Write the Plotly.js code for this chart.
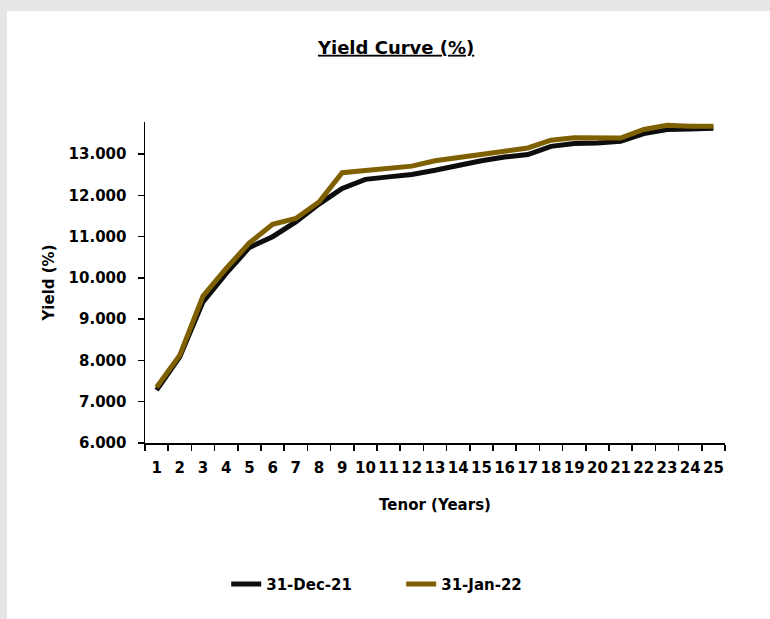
<!DOCTYPE html>
<html>
<head>
<meta charset="utf-8">
<script src="https://cdn.plot.ly/plotly-3.0.1.min.js"></script>
<style>
  html, body { margin: 0; padding: 0; background: #e6e6e6; width: 770px; height: 619px; overflow: hidden; }
  #chart { position: absolute; left: 7px; top: 11px; width: 763px; height: 608px; background: #ffffff; }
</style>
</head>
<body>
<div id="chart"></div>
<script>
const tenors = ["1","2","3","4","5","6","7","8","9","10","11","12","13","14","15","16","17","18","19","20","21","22","23","24","25"];
const dec21 = [7.28, 8.09, 9.42, 10.11, 10.74, 11.00, 11.36, 11.79, 12.17, 12.39, 12.45, 12.51, 12.61, 12.73, 12.84, 12.93, 12.99, 13.19, 13.26, 13.27, 13.31, 13.50, 13.60, 13.61, 13.63];
const jan22 = [7.35, 8.13, 9.56, 10.23, 10.85, 11.30, 11.44, 11.84, 12.55, 12.60, 12.64, 12.71, 12.84, 12.91, 12.99, 13.07, 13.15, 13.34, 13.40, 13.40, 13.39, 13.60, 13.70, 13.68, 13.68];
const yTicks = [6, 7, 8, 9, 10, 11, 12, 13];
const seriesNames = ["31-Dec-21", "31-Jan-22"];

const FONT = "DejaVu Sans, sans-serif";

const traces = [
  { x: tenors, y: dec21, name: seriesNames[0], type: "scatter", mode: "lines",
    line: { color: "#0d0d0d", width: 5, shape: "linear" } },
  { x: tenors, y: jan22, name: seriesNames[1], type: "scatter", mode: "lines",
    line: { color: "#7f6000", width: 5, shape: "linear" } }
];

const layout = {
  width: 763, height: 608,
  paper_bgcolor: "#ffffff", plot_bgcolor: "#ffffff",
  margin: { l: 138, r: 45, t: 111, b: 176 },
  font: { family: FONT, color: "#000000", size: 15 },
  title: {
    text: "Yield Curve (%)",
    x: 0.51, xanchor: "center", y: 0.94, yanchor: "middle", yref: "container",
    font: { family: FONT, size: 18, weight: "bold", color: "#000000", lineposition: "under" }
  },
  xaxis: {
    type: "category",
    range: [-0.5, 24.5],
    showline: true, linecolor: "#000000", linewidth: 1.5,
    ticks: "outside", tickson: "boundaries", ticklen: 6, tickwidth: 1.5, tickcolor: "#000000",
    tickangle: 0, ticklabelstandoff: 10,
    showgrid: false, zeroline: false,
    tickfont: { family: FONT, size: 15, weight: "bold", color: "#000000" },
    title: { text: "Tenor (Years)", standoff: 24,
      font: { family: FONT, size: 15, weight: "bold", color: "#000000" } }
  },
  yaxis: {
    range: [6, 13.78],
    tickvals: yTicks, tickformat: ".3f",
    showline: true, linecolor: "#000000", linewidth: 1.5,
    ticks: "outside", ticklen: 6, tickwidth: 1.5, tickcolor: "#000000",
    showgrid: false, zeroline: false,
    tickfont: { family: FONT, size: 15, weight: "bold", color: "#000000" },
    ticklabelstandoff: 8,
    title: { text: "Yield (%)", standoff: 10,
      font: { family: FONT, size: 15, weight: "bold", color: "#000000" } }
  },
  legend: {
    orientation: "h", x: 0.14, xanchor: "left", y: -0.44, yanchor: "middle",
    entrywidth: 130, entrywidthmode: "pixels",
    font: { family: FONT, size: 15, weight: "bold", color: "#000000" },
    tracegroupgap: 0, traceorder: "normal"
  },
  showlegend: true
};

Plotly.newPlot("chart", traces, layout, { displayModeBar: false, staticPlot: true });
</script>
</body>
</html>
